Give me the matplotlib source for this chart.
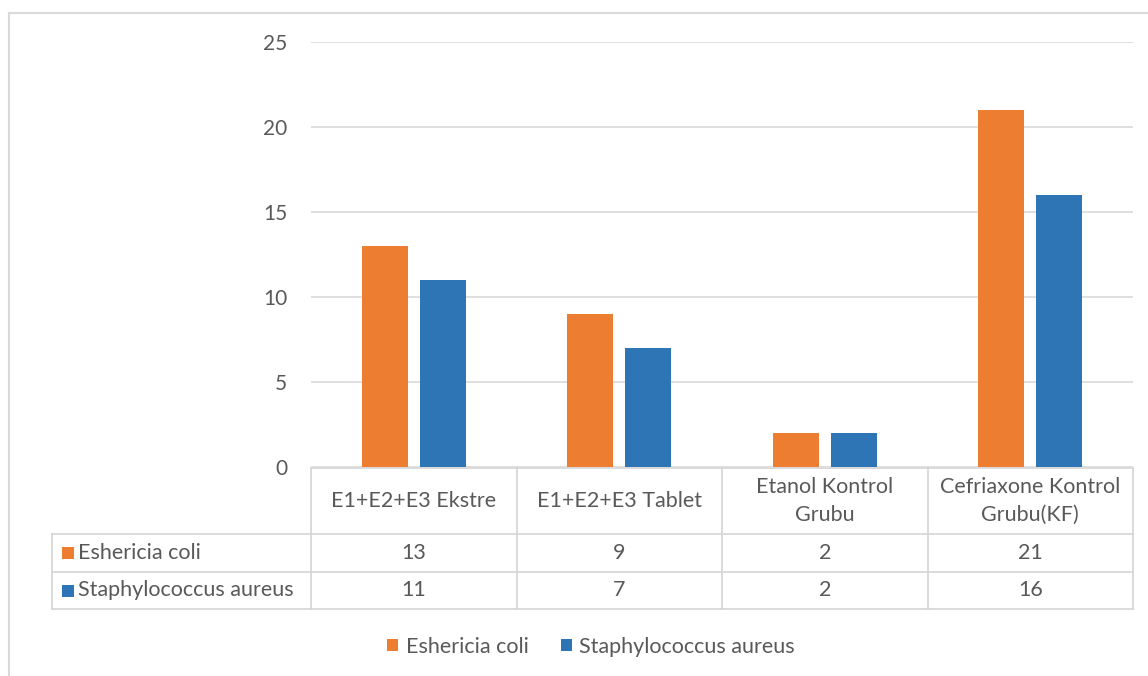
import matplotlib.pyplot as plt
from matplotlib.patches import Rectangle
from matplotlib.lines import Line2D
import matplotlib.transforms as mtransforms
import numpy as np

plt.rcParams["font.family"] = ["Lato", "DejaVu Sans"]

categories = [
    "E1+E2+E3 Ekstre",
    "E1+E2+E3 Tablet",
    "Etanol Kontrol\nGrubu",
    "Cefriaxone Kontrol\nGrubu(KF)",
]
series_names = ["Eshericia coli", "Staphylococcus aureus"]
ecoli = [13, 9, 2, 21]
saureus = [11, 7, 2, 16]
colors = ["#ED7D31", "#2E75B6"]

TEXT = "#595959"
GRID = "#D9D9D9"
TABLE_LINE = "#D4D4D4"
FS = 15.5

fig = plt.figure(figsize=(11.48, 6.76), dpi=100)
W, H = 1148, 676

# outer chart border (light grey frame)
fig.add_artist(Line2D([9 / W, 1.0], [1 - 13 / H, 1 - 13 / H], color=GRID,
                      linewidth=1.5, transform=fig.transFigure))
fig.add_artist(Line2D([9 / W, 9 / W], [1 - 13 / H, 0.0], color=GRID,
                      linewidth=1.5, transform=fig.transFigure))

left_px, right_px, top_px, bot_px = 311, 1133, 42, 467
ax = fig.add_axes([left_px / W, 1 - bot_px / H,
                   (right_px - left_px) / W, (bot_px - top_px) / H])

x = np.arange(len(categories))
bw = 0.224
off = 0.142
ax.bar(x - off, ecoli, width=bw, color=colors[0], label=series_names[0], zorder=3)
ax.bar(x + off, saureus, width=bw, color=colors[1], label=series_names[1], zorder=3)

ax.set_xlim(-0.5, len(categories) - 0.5)
ax.set_ylim(0, 25)
ax.set_yticks(range(0, 26, 5))
ax.yaxis.grid(True, color=GRID, linewidth=1.2)
ax.set_axisbelow(True)
ax.set_xticks([])
ax.tick_params(axis="y", length=0, pad=17, labelsize=15, labelcolor=TEXT)
for s in ax.spines.values():
    s.set_visible(False)

# data table below the axis
trans = mtransforms.blended_transform_factory(ax.transData, ax.transAxes)
px_h = bot_px - top_px


def yax(ypix):
    return (bot_px - ypix) / px_h


row_tops = [468, 534, 572, 609]
label_left = -0.5 - (left_px - 52) / ((right_px - left_px) / len(categories))

lines = []
lines.append(([-0.5, len(categories) - 0.5], [yax(row_tops[0])] * 2))
for yp in row_tops[1:]:
    lines.append(([label_left, len(categories) - 0.5], [yax(yp)] * 2))
for i in range(len(categories) + 1):
    xb = i - 0.5
    lines.append(([xb, xb], [yax(row_tops[0]), yax(row_tops[-1])]))
lines.append(([label_left, label_left], [yax(row_tops[1]), yax(row_tops[-1])]))
for xs, ys in lines:
    ax.add_line(Line2D(xs, ys, color=TABLE_LINE, linewidth=1.2,
                       transform=trans, clip_on=False))

for i, cat in enumerate(categories):
    ax.text(i, yax(501), cat, transform=trans, ha="center", va="center",
            fontsize=FS, color=TEXT, linespacing=1.45)

for r, (name, vals) in enumerate([(series_names[0], ecoli),
                                   (series_names[1], saureus)]):
    ymid = (row_tops[r + 1] + row_tops[r + 2]) / 2
    for i, v in enumerate(vals):
        ax.text(i, yax(ymid), str(v), transform=trans, ha="center", va="center",
                fontsize=FS, color=TEXT)
    fig.add_artist(Rectangle((62 / W, 1 - ymid / H - 6 / H), 12 / W, 12 / H,
                             facecolor=colors[r], edgecolor="none",
                             transform=fig.transFigure))
    fig.text(78 / W, 1 - ymid / H, name, ha="left", va="center",
             fontsize=FS, color=TEXT)

handles, labels = ax.get_legend_handles_labels()
fig.legend(handles, labels, loc="center", bbox_to_anchor=(591 / W, 1 - 647 / H),
           ncol=2, frameon=False, fontsize=FS, labelcolor=TEXT,
           handlelength=0.5, handleheight=0.5, handletextpad=0.35, columnspacing=1.5)

fig.savefig("out.png", dpi=100)
